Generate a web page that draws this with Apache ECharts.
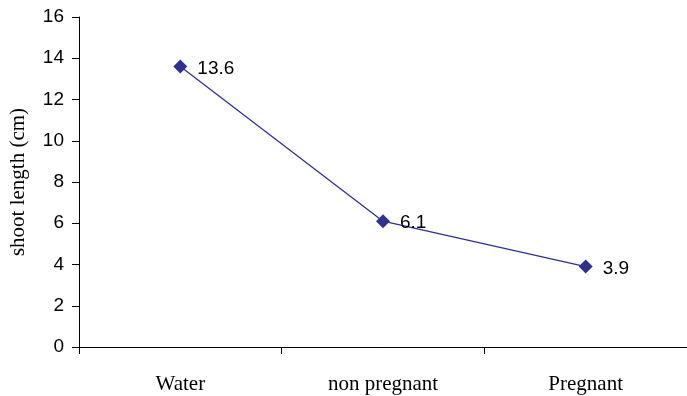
<!DOCTYPE html>
<html><head><meta charset="utf-8">
<script src="https://cdn.jsdelivr.net/npm/echarts@6/dist/echarts.min.js"></script>
<style>html,body{margin:0;padding:0;background:#fff}#c{width:687px;height:396px}</style>
</head><body><div id="c"></div>
<script>
var categories = ['Water', 'non pregnant', 'Pregnant'];
var values = [13.6, 6.1, 3.9];
var chart = echarts.init(document.getElementById('c'), null, {renderer: 'canvas'});
chart.setOption({
  animation: false,
  backgroundColor: '#fff',
  grid: {left: 78, top: 17, width: 613, height: 330, containLabel: false},
  xAxis: {
    type: 'category', data: categories, boundaryGap: true,
    axisLine: {lineStyle: {color: '#000', width: 1}},
    axisTick: {show: true, length: 7, inside: false, lineStyle: {color: '#000'}},
    axisLabel: {color: '#000', fontFamily: 'Liberation Serif', fontSize: 21, margin: 27}
  },
  yAxis: {
    type: 'value', min: 0, max: 16, interval: 2,
    name: 'shoot length (cm)', nameLocation: 'middle', nameGap: 50, nameRotate: 90,
    nameTextStyle: {color: '#000', fontFamily: 'Liberation Serif', fontSize: 21},
    axisLine: {show: true, lineStyle: {color: '#000', width: 1}},
    axisTick: {show: true, length: 7, lineStyle: {color: '#000'}},
    splitLine: {show: false},
    axisLabel: {color: '#000', fontFamily: 'Liberation Sans', fontSize: 19, margin: 15}
  },
  series: [{
    type: 'line', data: values,
    symbol: 'diamond', symbolSize: [14, 14],
    lineStyle: {color: '#2E3192', width: 1.3},
    itemStyle: {color: '#2E3192'},
    label: {show: true, position: 'right', distance: 10, offset: [0, 2], color: '#000',
      fontFamily: 'Liberation Sans', fontSize: 19, formatter: function(p){return p.value.toFixed(1);}}
  }]
});
</script></body></html>
